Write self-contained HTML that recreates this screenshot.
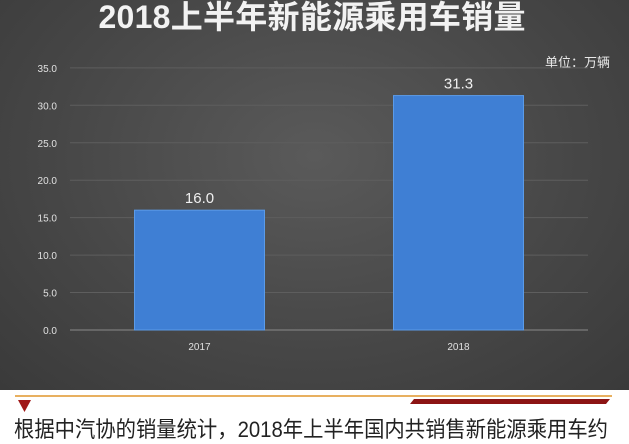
<!DOCTYPE html>
<html><head><meta charset="utf-8"><style>
html,body{margin:0;width:629px;height:444px;overflow:hidden;background:#fff;font-family:"Liberation Sans","Noto Sans CJK SC",sans-serif}
#bg{position:absolute;left:0;top:0;width:629px;height:390px;background:radial-gradient(ellipse at 50% 40%,#5a5a5a 0%,#464646 60%,#3a3a3a 100%)}
</style></head><body>
<div id="bg"></div>
<svg id="c" width="629" height="444" style="position:absolute;left:0;top:0;overflow:hidden">
<text x="312" y="28" text-anchor="middle" fill="#f2f2f2" font-size="32" font-weight="bold" textLength="427" font-family="Liberation Sans,Noto Sans CJK SC,sans-serif">2018上半年新能源乘用车销量</text>
<text x="610" y="67" text-anchor="end" fill="#e8e8e8" font-size="13" font-family="Liberation Sans,Noto Sans CJK SC,sans-serif">单位：万辆</text>
<g id="grid"></g><g id="bars"></g>
<line x1="15" y1="396" x2="612" y2="396" stroke="#e8b060" stroke-width="2"/>
<polygon points="18,400 31,400 24.5,412" fill="#a01818"/>
<polygon points="414,399 610,399 606,404 410,404" fill="#8c1414"/>
<text x="14" y="437" fill="#222" font-size="22" textLength="594" lengthAdjust="spacingAndGlyphs" font-family="Liberation Sans,Noto Sans CJK SC,sans-serif">根据中汽协的销量统计，2018年上半年国内共销售新能源乘用车约</text>
</svg>
<script>
const categories=["2017","2018"];
const values=[16.0,31.3];
const ticks=[0,5,10,15,20,25,30,35];
const NS="http://www.w3.org/2000/svg";
const y0=330,pxPer=7.49,xl=70,xr=588;
const y=v=>y0-v*pxPer;
const g=document.getElementById("grid"),b=document.getElementById("bars");
function mk(t,a,p){const e=document.createElementNS(NS,t);for(const k in a)e.setAttribute(k,a[k]);p.appendChild(e);return e;}
ticks.forEach(t=>{
 const l=mk("line",{x1:xl,x2:xr,y1:y(t),y2:y(t),stroke:t?"#5e5e5e":"#8a8a8a","stroke-width":1},g);
 
 
 const tx=mk("text",{x:57,y:y(t)+4,"text-anchor":"end",fill:"#e0e0e0","font-size":10},g);
 tx.textContent=t.toFixed(1);
 
 
});
const band=(xr-xl)/categories.length,bw=130;
categories.forEach((c,i)=>{
 const cx=xl+band*(i+0.5);
 const r=mk("rect",{x:cx-bw/2,y:y(values[i]),width:bw,height:values[i]*pxPer,fill:"#3f7fd4",stroke:"#5b9be8","stroke-width":1},b);
 
 
 const v=mk("text",{x:cx,y:y(values[i])-7,"text-anchor":"middle",fill:"#f0f0f0","font-size":15},b);
 v.textContent=values[i].toFixed(1);
 
 
 const cl=mk("text",{x:cx,y:350,"text-anchor":"middle",fill:"#e0e0e0","font-size":10},b);
 cl.textContent=c;
 
 
});
</script>
</body></html>
